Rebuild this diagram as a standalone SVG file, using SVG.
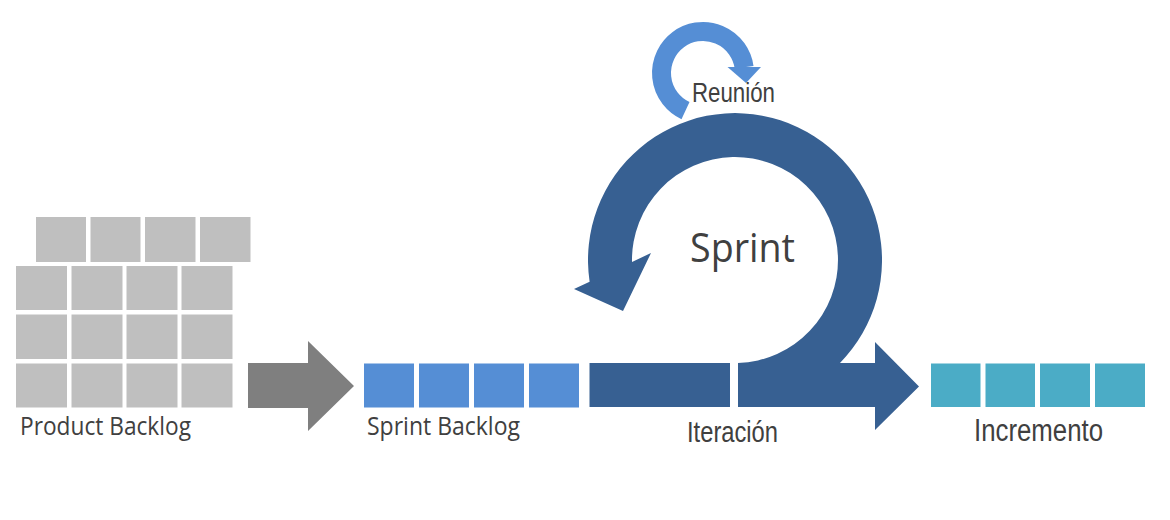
<svg xmlns="http://www.w3.org/2000/svg" width="1170" height="520" viewBox="0 0 1170 520">
  <style>
    .pb { fill: #bfbfbf; }
    .sb { fill: #558ed5; }
    .inc { fill: #4bacc6; }
    .dark { fill: #376092; }
    .lbl { font-family: "Open Sans", "Noto Sans", sans-serif; fill: #404040; }
    .lbl2 { font-family: "Liberation Sans", Arial, sans-serif; fill: #404040; }
  </style>
  <rect width="1170" height="520" fill="#ffffff"/>

  <g id="product-backlog">
    <rect class="pb" x="36" y="217" width="50" height="45"/>
    <rect class="pb" x="90.5" y="217" width="50" height="45"/>
    <rect class="pb" x="145" y="217" width="50.5" height="45"/>
    <rect class="pb" x="200" y="217" width="50.5" height="45"/>
    <rect class="pb" x="16" y="266" width="51" height="44"/>
    <rect class="pb" x="71.5" y="266" width="51" height="44"/>
    <rect class="pb" x="126.5" y="266" width="51" height="44"/>
    <rect class="pb" x="181.5" y="266" width="51" height="44"/>
    <rect class="pb" x="16" y="314.5" width="51" height="44.5"/>
    <rect class="pb" x="71.5" y="314.5" width="51" height="44.5"/>
    <rect class="pb" x="126.5" y="314.5" width="51" height="44.5"/>
    <rect class="pb" x="181.5" y="314.5" width="51" height="44.5"/>
    <rect class="pb" x="16" y="363.5" width="51" height="44"/>
    <rect class="pb" x="71.5" y="363.5" width="51" height="44"/>
    <rect class="pb" x="126.5" y="363.5" width="51" height="44"/>
    <rect class="pb" x="181.5" y="363.5" width="51" height="44"/>
    <text class="lbl" x="20" y="435" font-size="25" textLength="171" lengthAdjust="spacingAndGlyphs">Product Backlog</text>
  </g>

  <g id="sprint-backlog">
    <rect class="sb" x="364" y="363.5" width="50" height="44"/>
    <rect class="sb" x="419" y="363.5" width="50" height="44"/>
    <rect class="sb" x="474" y="363.5" width="50" height="44"/>
    <rect class="sb" x="529" y="363.5" width="50" height="44"/>
    <text class="lbl" x="367" y="435" font-size="25" textLength="153" lengthAdjust="spacingAndGlyphs">Sprint Backlog</text>
  </g>

  <g id="increment">
    <rect class="inc" x="931" y="363.5" width="49.5" height="43.5"/>
    <rect class="inc" x="985.5" y="363.5" width="49.5" height="43.5"/>
    <rect class="inc" x="1040" y="363.5" width="50" height="43.5"/>
    <rect class="inc" x="1095" y="363.5" width="50" height="43.5"/>
    <text class="lbl2" x="974" y="441" font-size="31" textLength="129" lengthAdjust="spacingAndGlyphs">Incremento</text>
  </g>

  <g id="connectors">
    <!-- gray arrow: product backlog -> sprint backlog -->
    <path id="arrow-pb-sb" fill="#7f7f7f" d="M248,363 L308,363 L308,341 L354,386 L308,431 L308,408 L248,408 Z"/>
    <!-- Reunion small loop (behind sprint loop) -->
    <g id="reunion-loop">
      <path fill="none" stroke="#558ed5" stroke-width="19" d="M 685.5,110.6 A 41.5 41.5 0 1 1 744.1,67.2"/>
      <path fill="#558ed5" d="M727.5,67 L761,67 L746,83 Z"/>
    </g>
  </g>

  <g id="iteration">
    <rect class="dark" x="589.5" y="363" width="140.5" height="44"/>
  </g>

  <g id="sprint-loop">
    <path class="dark" d="M738,363 A103,103 0 1 0 632,261.9 L651,253 L623,311 L574,289 L589.6,281.7 A147,147 0 1 1 840,363 L875,363 L875,342 L919,386.5 L875,430 L875,407 L738,407 Z"/>
    <text class="lbl" x="690" y="262" font-size="40" textLength="105" lengthAdjust="spacingAndGlyphs">Sprint</text>
  </g>

  <g id="labels">
    <text class="lbl2" x="692" y="102" font-size="28" textLength="83" lengthAdjust="spacingAndGlyphs">Reunión</text>
    <text class="lbl2" x="687" y="441.5" font-size="30" textLength="91" lengthAdjust="spacingAndGlyphs">Iteración</text>
  </g>
</svg>
